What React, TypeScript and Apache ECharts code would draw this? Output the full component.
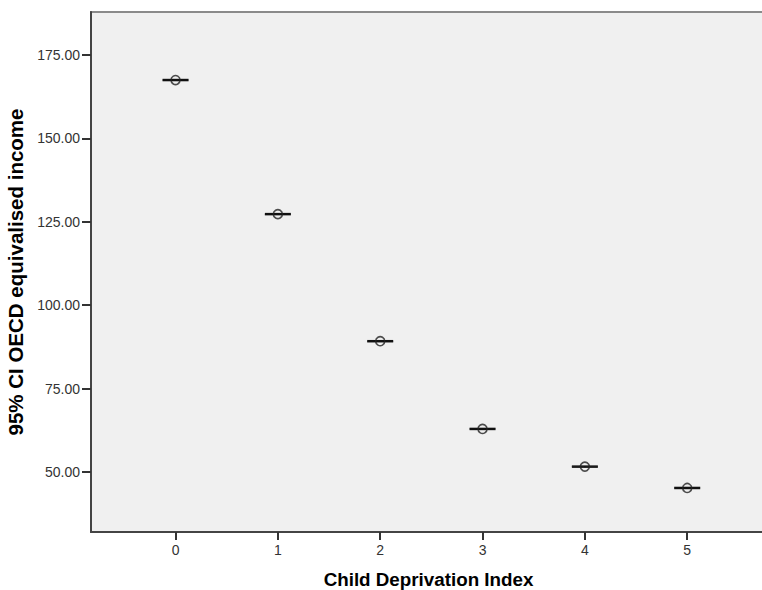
import React, { useEffect, useRef } from "react";
import * as echarts from "echarts";

const categories = [0, 1, 2, 3, 4, 5];
const means = [167.5, 127.3, 89.2, 62.9, 51.6, 45.2];
const lowerCI = [167.35, 127.15, 89.05, 62.75, 51.45, 45.05];
const upperCI = [167.65, 127.45, 89.35, 63.05, 51.75, 45.35];
const yTicks = [50, 75, 100, 125, 150, 175];

export default function App() {
  const ref = useRef<HTMLDivElement>(null);
  useEffect(() => {
    if (!ref.current) return;
    const chart = echarts.init(ref.current, undefined, { renderer: "svg" });
    const font = "'Liberation Sans', Arial, sans-serif";
    chart.setOption({
      animation: false,
      backgroundColor: "#ffffff",
      grid: {
        left: 91,
        top: 12,
        right: -4,
        bottom: 58,
        containLabel: false,
        outerBoundsMode: "none",
        show: true,
        backgroundColor: "#F0F0F0",
        borderColor: "#8a8a8a",
        borderWidth: 2,
      },
      xAxis: {
        type: "value",
        min: -0.826,
        max: 5.77,
        name: "Child Deprivation Index",
        nameLocation: "middle",
        nameGap: 38,
        nameTextStyle: { fontFamily: font, fontSize: 18.8, fontWeight: "bold", color: "#000" },
        axisLine: { show: true, onZero: false, lineStyle: { color: "#444", width: 2 } },
        axisTick: { show: true, length: 8, customValues: categories, lineStyle: { color: "#333", width: 2 } },
        axisLabel: {
          customValues: categories,
          margin: 11,
          fontFamily: font,
          fontSize: 14,
          color: "#333",
          formatter: (v: number) => String(v),
        },
        splitLine: { show: false },
      },
      yAxis: {
        type: "value",
        min: 32,
        max: 187.9,
        name: "95% CI OECD equivalised income",
        nameLocation: "middle",
        nameGap: 64,
        nameRotate: 90,
        nameTextStyle: { fontFamily: font, fontSize: 20.5, fontWeight: "bold", color: "#000" },
        axisLine: { show: true, onZero: false, lineStyle: { color: "#444", width: 2 } },
        axisTick: { show: true, length: 9, customValues: yTicks, lineStyle: { color: "#333", width: 2 } },
        axisLabel: {
          customValues: yTicks,
          margin: 11,
          fontFamily: font,
          fontSize: 14,
          color: "#333",
          formatter: (v: number) => v.toFixed(2),
        },
        splitLine: { show: false },
      },
      series: [
        {
          type: "custom",
          data: categories.map((c, i) => [c, lowerCI[i], upperCI[i]]),
          renderItem: (params: any, api: any) => {
            const x = api.value(0);
            const lo = api.coord([x, api.value(1)]);
            const hi = api.coord([x, api.value(2)]);
            const hw = 13;
            const style = { stroke: "#111", lineWidth: 1.5 };
            return {
              type: "group",
              children: [
                { type: "line", shape: { x1: lo[0] - hw, y1: lo[1], x2: lo[0] + hw, y2: lo[1] }, style },
                { type: "line", shape: { x1: hi[0] - hw, y1: hi[1], x2: hi[0] + hw, y2: hi[1] }, style },
                { type: "line", shape: { x1: lo[0], y1: lo[1], x2: hi[0], y2: hi[1] }, style },
              ],
            };
          },
          z: 2,
        },
        {
          type: "scatter",
          data: categories.map((c, i) => [c, means[i]]),
          symbol: "circle",
          symbolSize: 9,
          itemStyle: { color: "rgba(0,0,0,0)", borderColor: "#222", borderWidth: 1.6 },
          z: 3,
        },
      ],
    });
    return () => chart.dispose();
  }, []);
  return (
    <div
      ref={ref}
      style={{ position: "absolute", left: 0, top: 0, width: 762, height: 590 }}
    />
  );
}
